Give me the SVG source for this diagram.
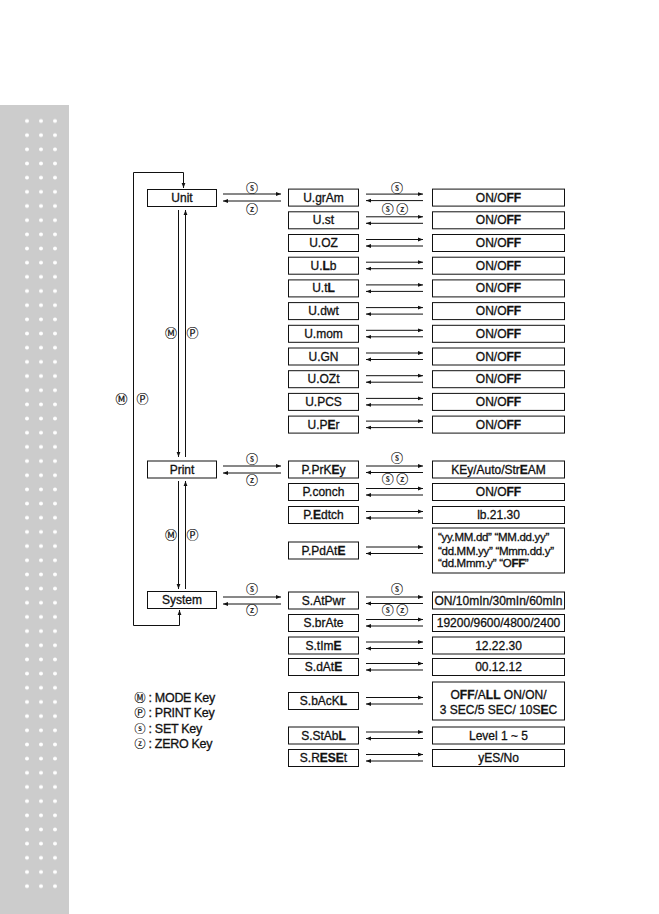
<svg xmlns="http://www.w3.org/2000/svg" width="659" height="914" viewBox="0 0 659 914">
<style>
.bx{fill:#fff;stroke:#111;stroke-width:1}
.t{font-family:"Liberation Sans",Arial,sans-serif;font-size:12px;fill:#111;stroke:#111;stroke-width:0.3px;text-anchor:middle}
.s{text-anchor:start;font-size:11.5px;letter-spacing:-0.3px}
.b{font-weight:bold}
.c{font-family:"Noto Sans CJK JP","DejaVu Sans",sans-serif;font-size:12px;fill:#111;stroke:#111;stroke-width:0.2px;text-anchor:middle}
.cl{font-size:11px}
.lg{font-family:"Liberation Sans",Arial,sans-serif;font-size:12.5px;fill:#111;stroke:#111;stroke-width:0.3px;letter-spacing:-0.3px}
.ln{stroke:#111;stroke-width:1;fill:none;marker-end:url(#ah)}
</style>
<defs>
<marker id="ah" markerUnits="userSpaceOnUse" markerWidth="6" markerHeight="5" refX="5" refY="2.5" orient="auto"><path d="M0,0.6 L5,2.5 L0,4.4 z" fill="#111"/></marker>
<pattern id="dots" patternUnits="userSpaceOnUse" x="0" y="113.9" width="69" height="14.17"><circle cx="27" cy="7.085" r="2" fill="#fff"/><circle cx="41" cy="7.085" r="2" fill="#fff"/><circle cx="55" cy="7.085" r="2" fill="#fff"/></pattern>
</defs>
<rect x="0" y="105" width="69" height="809" fill="#cccccc"/>
<rect x="0" y="113.9" width="69" height="779.4" fill="url(#dots)"/>

<g id="connectors">
<path class="ln" d="M133.5,625.5 V172.5 H183.5 V188"/>
<path class="ln" d="M133.5,625.5 H179.5 V610"/>
<line class="ln" x1="178.5" y1="210" x2="178.5" y2="457"/>
<line class="ln" x1="185.5" y1="457" x2="185.5" y2="210"/>
<line class="ln" x1="178.5" y1="481" x2="178.5" y2="589"/>
<line class="ln" x1="185.5" y1="589" x2="185.5" y2="481"/>
<line class="ln" x1="223" y1="194" x2="281" y2="194"/>
<line class="ln" x1="281" y1="201" x2="223" y2="201"/>
<line class="ln" x1="223" y1="466" x2="281" y2="466"/>
<line class="ln" x1="281" y1="473" x2="223" y2="473"/>
<line class="ln" x1="223" y1="597" x2="281" y2="597"/>
<line class="ln" x1="281" y1="604" x2="223" y2="604"/>
<g id="rowarrows">
<line class="ln" x1="366" y1="194.1" x2="423" y2="194.1"/><line class="ln" x1="423" y1="200.6" x2="366" y2="200.6"/>
<line class="ln" x1="366" y1="216.8" x2="423" y2="216.8"/><line class="ln" x1="423" y1="223.3" x2="366" y2="223.3"/>
<line class="ln" x1="366" y1="239.5" x2="423" y2="239.5"/><line class="ln" x1="423" y1="246" x2="366" y2="246"/>
<line class="ln" x1="366" y1="262.2" x2="423" y2="262.2"/><line class="ln" x1="423" y1="268.7" x2="366" y2="268.7"/>
<line class="ln" x1="366" y1="284.9" x2="423" y2="284.9"/><line class="ln" x1="423" y1="291.4" x2="366" y2="291.4"/>
<line class="ln" x1="366" y1="307.6" x2="423" y2="307.6"/><line class="ln" x1="423" y1="314.1" x2="366" y2="314.1"/>
<line class="ln" x1="366" y1="330.3" x2="423" y2="330.3"/><line class="ln" x1="423" y1="336.8" x2="366" y2="336.8"/>
<line class="ln" x1="366" y1="353" x2="423" y2="353"/><line class="ln" x1="423" y1="359.5" x2="366" y2="359.5"/>
<line class="ln" x1="366" y1="375.7" x2="423" y2="375.7"/><line class="ln" x1="423" y1="382.2" x2="366" y2="382.2"/>
<line class="ln" x1="366" y1="398.4" x2="423" y2="398.4"/><line class="ln" x1="423" y1="404.9" x2="366" y2="404.9"/>
<line class="ln" x1="366" y1="421.1" x2="423" y2="421.1"/><line class="ln" x1="423" y1="427.6" x2="366" y2="427.6"/>
<line class="ln" x1="366" y1="466" x2="423" y2="466"/><line class="ln" x1="423" y1="472.5" x2="366" y2="472.5"/>
<line class="ln" x1="366" y1="488.5" x2="423" y2="488.5"/><line class="ln" x1="423" y1="495" x2="366" y2="495"/>
<line class="ln" x1="366" y1="511.5" x2="423" y2="511.5"/><line class="ln" x1="423" y1="518" x2="366" y2="518"/>
<line class="ln" x1="366" y1="547" x2="423" y2="547"/><line class="ln" x1="423" y1="553.5" x2="366" y2="553.5"/>
<line class="ln" x1="366" y1="597" x2="423" y2="597"/><line class="ln" x1="423" y1="603.5" x2="366" y2="603.5"/>
<line class="ln" x1="366" y1="619.5" x2="423" y2="619.5"/><line class="ln" x1="423" y1="626" x2="366" y2="626"/>
<line class="ln" x1="366" y1="642" x2="423" y2="642"/><line class="ln" x1="423" y1="648.5" x2="366" y2="648.5"/>
<line class="ln" x1="366" y1="663.5" x2="423" y2="663.5"/><line class="ln" x1="423" y1="670" x2="366" y2="670"/>
<line class="ln" x1="366" y1="697.5" x2="423" y2="697.5"/><line class="ln" x1="423" y1="704" x2="366" y2="704"/>
<line class="ln" x1="366" y1="732" x2="423" y2="732"/><line class="ln" x1="423" y1="738.5" x2="366" y2="738.5"/>
<line class="ln" x1="366" y1="754.5" x2="423" y2="754.5"/><line class="ln" x1="423" y1="761" x2="366" y2="761"/>
</g>
<g id="keylabels">
<text class="c" x="252" y="193">ⓢ</text><text class="c" x="252" y="213.5">ⓩ</text>
<text class="c" x="252" y="463.5">ⓢ</text><text class="c" x="252" y="485">ⓩ</text>
<text class="c" x="252" y="594">ⓢ</text><text class="c" x="252" y="615">ⓩ</text>
<text class="c" x="397" y="192.5">ⓢ</text><text class="c" x="395" y="213.5">ⓢ ⓩ</text>
<text class="c" x="397" y="463">ⓢ</text><text class="c" x="395" y="484">ⓢ ⓩ</text>
<text class="c" x="397" y="594">ⓢ</text><text class="c" x="395" y="615">ⓢ ⓩ</text>
<text class="c" x="171" y="338">Ⓜ︎</text><text class="c" x="192.5" y="338">Ⓟ</text>
<text class="c" x="171" y="539.5">Ⓜ︎</text><text class="c" x="192.5" y="539.5">Ⓟ</text>
<text class="c" x="121.5" y="403.5">Ⓜ︎</text><text class="c" x="142.5" y="403.5">Ⓟ</text>
</g>
</g>

<g id="unit"><rect class="bx" x="147.5" y="189.5" width="69" height="17"/><text class="t" x="182" y="202">Unit</text></g>
<g id="print"><rect class="bx" x="147.5" y="461" width="69" height="17"/><text class="t" x="182" y="473.5">Print</text></g>
<g id="system"><rect class="bx" x="147.5" y="591.5" width="69" height="17"/><text class="t" x="182" y="604">System</text></g>

<g id="u-gram"><rect class="bx" x="288.5" y="189.1" width="70" height="17"/><text class="t" x="323.5" y="201.6">U.grAm</text><rect class="bx" x="432.5" y="189.1" width="132" height="17"/><text class="t" x="498.5" y="201.6">ON/O<tspan class="b">FF</tspan></text></g>
<g id="u-st"><rect class="bx" x="288.5" y="211.8" width="70" height="17"/><text class="t" x="323.5" y="224.3">U.st</text><rect class="bx" x="432.5" y="211.8" width="132" height="17"/><text class="t" x="498.5" y="224.3">ON/O<tspan class="b">FF</tspan></text></g>
<g id="u-oz"><rect class="bx" x="288.5" y="234.5" width="70" height="17"/><text class="t" x="323.5" y="247">U.OZ</text><rect class="bx" x="432.5" y="234.5" width="132" height="17"/><text class="t" x="498.5" y="247">ON/O<tspan class="b">FF</tspan></text></g>
<g id="u-lb"><rect class="bx" x="288.5" y="257.2" width="70" height="17"/><text class="t" x="323.5" y="269.7">U.<tspan class="b">L</tspan>b</text><rect class="bx" x="432.5" y="257.2" width="132" height="17"/><text class="t" x="498.5" y="269.7">ON/O<tspan class="b">FF</tspan></text></g>
<g id="u-tl"><rect class="bx" x="288.5" y="279.9" width="70" height="17"/><text class="t" x="323.5" y="292.4">U.t<tspan class="b">L</tspan></text><rect class="bx" x="432.5" y="279.9" width="132" height="17"/><text class="t" x="498.5" y="292.4">ON/O<tspan class="b">FF</tspan></text></g>
<g id="u-dwt"><rect class="bx" x="288.5" y="302.6" width="70" height="17"/><text class="t" x="323.5" y="315.1">U.dwt</text><rect class="bx" x="432.5" y="302.6" width="132" height="17"/><text class="t" x="498.5" y="315.1">ON/O<tspan class="b">FF</tspan></text></g>
<g id="u-mom"><rect class="bx" x="288.5" y="325.3" width="70" height="17"/><text class="t" x="323.5" y="337.8">U.mom</text><rect class="bx" x="432.5" y="325.3" width="132" height="17"/><text class="t" x="498.5" y="337.8">ON/O<tspan class="b">FF</tspan></text></g>
<g id="u-gn"><rect class="bx" x="288.5" y="348" width="70" height="17"/><text class="t" x="323.5" y="360.5">U.GN</text><rect class="bx" x="432.5" y="348" width="132" height="17"/><text class="t" x="498.5" y="360.5">ON/O<tspan class="b">FF</tspan></text></g>
<g id="u-ozt"><rect class="bx" x="288.5" y="370.7" width="70" height="17"/><text class="t" x="323.5" y="383.2">U.OZt</text><rect class="bx" x="432.5" y="370.7" width="132" height="17"/><text class="t" x="498.5" y="383.2">ON/O<tspan class="b">FF</tspan></text></g>
<g id="u-pcs"><rect class="bx" x="288.5" y="393.4" width="70" height="17"/><text class="t" x="323.5" y="405.9">U.PCS</text><rect class="bx" x="432.5" y="393.4" width="132" height="17"/><text class="t" x="498.5" y="405.9">ON/O<tspan class="b">FF</tspan></text></g>
<g id="u-per"><rect class="bx" x="288.5" y="416.1" width="70" height="17"/><text class="t" x="323.5" y="428.6">U.P<tspan class="b">E</tspan>r</text><rect class="bx" x="432.5" y="416.1" width="132" height="17"/><text class="t" x="498.5" y="428.6">ON/O<tspan class="b">FF</tspan></text></g>

<g id="p-prkey"><rect class="bx" x="288.5" y="461" width="70" height="17"/><text class="t" x="323.5" y="473.5">P.PrK<tspan class="b">E</tspan>y</text><rect class="bx" x="432.5" y="461" width="132" height="17"/><text class="t" x="498.5" y="473.5">KEy/Auto/Str<tspan class="b">E</tspan>AM</text></g>
<g id="p-conch"><rect class="bx" x="288.5" y="483.5" width="70" height="17"/><text class="t" x="323.5" y="496">P.conch</text><rect class="bx" x="432.5" y="483.5" width="132" height="17"/><text class="t" x="498.5" y="496">ON/O<tspan class="b">FF</tspan></text></g>
<g id="p-edtch"><rect class="bx" x="288.5" y="506.5" width="70" height="17"/><text class="t" x="323.5" y="519">P.<tspan class="b">E</tspan>dtch</text><rect class="bx" x="432.5" y="506.5" width="132" height="17"/><text class="t" x="498.5" y="519">lb.21.30</text></g>
<g id="p-pdate"><rect class="bx" x="288.5" y="542" width="70" height="17"/><text class="t" x="323.5" y="554.5">P.PdAt<tspan class="b">E</tspan></text><rect class="bx" x="432.5" y="528" width="132" height="45"/><text class="t s" x="438" y="541">“yy.MM.dd”  “MM.dd.yy”</text><text class="t s" x="438" y="554.5">“dd.MM.yy”  “Mmm.dd.y”</text><text class="t s" x="438" y="567">“dd.Mmm.y”  “O<tspan class="b">FF</tspan>”</text></g>

<g id="s-atpwr"><rect class="bx" x="288.5" y="592" width="70" height="17"/><text class="t" x="323.5" y="604.5">S.AtPwr</text><rect class="bx" x="432.5" y="592" width="132" height="17"/><text class="t" x="498.5" y="604.5">ON/10mIn/30mIn/60mIn</text></g>
<g id="s-brate"><rect class="bx" x="288.5" y="614.5" width="70" height="17"/><text class="t" x="323.5" y="627">S.brAte</text><rect class="bx" x="432.5" y="614.5" width="132" height="17"/><text class="t" x="498.5" y="627">19200/9600/4800/2400</text></g>
<g id="s-time"><rect class="bx" x="288.5" y="637" width="70" height="17"/><text class="t" x="323.5" y="649.5">S.tIm<tspan class="b">E</tspan></text><rect class="bx" x="432.5" y="637" width="132" height="17"/><text class="t" x="498.5" y="649.5">12.22.30</text></g>
<g id="s-date"><rect class="bx" x="288.5" y="658.5" width="70" height="17"/><text class="t" x="323.5" y="671">S.dAt<tspan class="b">E</tspan></text><rect class="bx" x="432.5" y="658.5" width="132" height="17"/><text class="t" x="498.5" y="671">00.12.12</text></g>
<g id="s-backl"><rect class="bx" x="288.5" y="692.5" width="70" height="17"/><text class="t" x="323.5" y="705">S.bAcK<tspan class="b">L</tspan></text><rect class="bx" x="432.5" y="682" width="132" height="38"/><text class="t" x="498.5" y="699">O<tspan class="b">FF</tspan>/A<tspan class="b">LL</tspan> ON/ON/</text><text class="t" x="498.5" y="713.5">3 SEC/5 SEC/ 10S<tspan class="b">E</tspan>C</text></g>
<g id="s-stabl"><rect class="bx" x="288.5" y="727" width="70" height="17"/><text class="t" x="323.5" y="739.5">S.StAb<tspan class="b">L</tspan></text><rect class="bx" x="432.5" y="727" width="132" height="17"/><text class="t" x="498.5" y="739.5">Level 1 ~ 5</text></g>
<g id="s-reset"><rect class="bx" x="288.5" y="749.5" width="70" height="17"/><text class="t" x="323.5" y="762">S.R<tspan class="b">ESE</tspan>t</text><rect class="bx" x="432.5" y="749.5" width="132" height="17"/><text class="t" x="498.5" y="762">yES/No</text></g>

<g id="legend">
<text class="c cl" x="140" y="702">Ⓜ︎</text><text class="lg" x="148.5" y="702">: MODE Key</text>
<text class="c cl" x="140" y="717">Ⓟ</text><text class="lg" x="148.5" y="717">: PRINT Key</text>
<text class="c cl" x="140" y="732.5">ⓢ</text><text class="lg" x="148.5" y="732.5">: SET Key</text>
<text class="c cl" x="140" y="747.5">ⓩ</text><text class="lg" x="148.5" y="747.5">: ZERO Key</text>
</g>
</svg>
